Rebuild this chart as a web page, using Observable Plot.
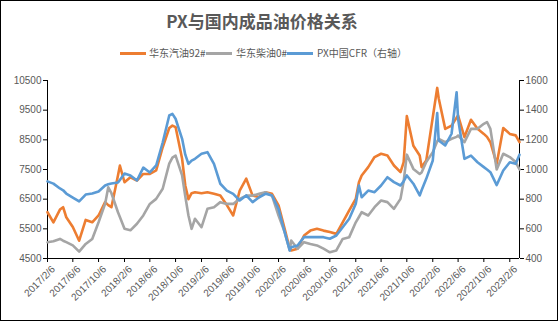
<!DOCTYPE html>
<html><head><meta charset="utf-8">
<script src="https://cdn.jsdelivr.net/npm/d3@7"></script>
<script src="https://cdn.jsdelivr.net/npm/@observablehq/plot@0.6"></script>
<style>
body{margin:0;background:#fff;}
#wrap{position:relative;width:558px;height:321px;overflow:hidden;background:#fff;}
#border{position:absolute;left:0;top:0;width:558px;height:321px;box-sizing:border-box;border:1px solid #000;pointer-events:none;}
#title{position:absolute;left:0;width:524px;top:9px;text-align:center;font:bold 17px "Noto Sans CJK SC",sans-serif;color:#595959;line-height:24px;}
.lg-line{position:absolute;height:3px;width:26px;top:52px;}
.lg-text{position:absolute;top:46px;font:10px "Noto Sans CJK SC",sans-serif;color:#595959;line-height:14px;white-space:nowrap;}
#chart{position:absolute;left:0;top:65px;}
</style>
</head><body>
<div id="wrap">
  <div id="title"></div>
  <div id="legend"></div>
  <div id="chart"></div>
  <div id="border"></div>
</div>
<script>
const title = "PX与国内成品油价格关系";
const seriesNames = ["华东汽油92#", "华东柴油0#", "PX中国CFR（右轴）"];
const seriesColors = ["#ED7D31", "#A5A5A5", "#5B9BD5"];

const dates = [
  "2017-02-06","2017-03-06","2017-04-06","2017-04-21","2017-05-06","2017-06-06","2017-07-06","2017-08-06","2017-09-06","2017-10-06","2017-11-06","2017-11-21","2017-12-06",
  "2018-01-06","2018-01-15","2018-02-06","2018-03-06","2018-04-06","2018-05-06","2018-06-06","2018-07-06","2018-08-06","2018-09-06","2018-09-21","2018-10-06","2018-11-06","2018-11-21","2018-12-06","2018-12-21",
  "2019-01-06","2019-02-06","2019-03-06","2019-04-06","2019-05-06","2019-06-06","2019-07-06","2019-08-06","2019-09-06","2019-10-06","2019-11-06","2019-12-06",
  "2020-01-06","2020-02-06","2020-03-06","2020-03-30","2020-04-06","2020-05-06","2020-06-06","2020-07-06","2020-08-06","2020-09-06","2020-10-06","2020-11-06","2020-12-06",
  "2021-01-06","2021-02-06","2021-02-21","2021-03-06","2021-04-06","2021-05-06","2021-06-06","2021-07-06","2021-08-06","2021-09-06","2021-09-21","2021-10-06","2021-11-06","2021-12-06","2021-12-15",
  "2022-01-06","2022-02-06","2022-02-27","2022-03-06","2022-04-06","2022-05-06","2022-05-30","2022-06-06","2022-07-06","2022-08-06","2022-09-06","2022-10-06","2022-10-21","2022-11-06","2022-12-06",
  "2023-01-06","2023-02-06","2023-03-06","2023-03-24"
];
// 华东汽油92# (left axis)
const gasoline = [
  6060,5720,6150,6230,5890,5560,5100,5800,5720,5950,6400,6300,6230,
  7300,7630,7070,7240,7130,7350,7350,7470,8250,8900,8980,8930,7860,6960,6500,6700,
  6735,6700,6735,6680,6620,6300,5950,6790,7190,6620,6570,6735,
  6680,6290,5500,4830,4770,4830,5275,5440,5500,5440,5390,5330,5720,
  6120,6510,7070,7300,7580,7920,8030,7970,7635,7410,7750,9300,8300,7970,7580,
  7800,9260,10250,9900,8870,8980,9250,9320,8590,9175,8870,8700,8600,8420,7690,
  8900,8700,8650,8420
];
// 华东柴油0# (left axis)
const diesel = [
  5050,5080,5160,5100,5050,4940,4730,4990,5160,5720,6340,6900,6700,
  6060,5900,5500,5450,5670,5950,6340,6510,6850,7700,7900,7970,7300,6600,5950,5500,
  5840,5555,6175,6230,6400,6340,6340,6510,6620,6620,6680,6735,
  6620,5950,5390,4770,5106,4830,5050,4990,4940,4830,4710,4770,5160,
  5220,5720,5900,6060,5950,6230,6455,6400,6175,6510,7100,8000,7520,7350,7400,
  7750,8085,8450,8534,8420,8534,8600,8646,8420,8870,8870,9040,9100,8870,7500,
  8030,7920,7750,7500
];
// PX中国CFR (right axis)
const px = [
  920,905,872,860,838,811,785,831,838,852,892,900,906,
  912,930,973,960,926,1013,980,1027,1182,1364,1375,1342,1207,1100,1038,1060,
  1072,1106,1117,1038,904,858,836,791,825,780,813,836,
  825,735,577,454,476,488,544,544,544,544,533,555,611,
  668,769,892,813,858,847,892,948,915,892,920,960,904,825,860,
  937,1061,1380,1195,1162,1241,1521,1340,1072,1094,1049,1016,1000,982,895,
  993,1049,1038,1100
];
const leftTicks = [4500,5500,6500,7500,8500,9500,10500];
const rightTicks = [400,600,800,1000,1200,1400,1600];
const xTickLabels = ["2017-02-06","2017-06-06","2017-10-06","2018-02-06","2018-06-06","2018-10-06","2019-02-06","2019-06-06","2019-10-06","2020-02-06","2020-06-06","2020-10-06","2021-02-06","2021-06-06","2021-10-06","2022-02-06","2022-06-06","2022-10-06","2023-02-06"];

// ---- build ----
const parse = s => new Date(s + "T00:00:00Z");
const toLeft = v => leftTicks[0] + (v - rightTicks[0]) * (leftTicks[leftTicks.length-1]-leftTicks[0]) / (rightTicks[rightTicks.length-1]-rightTicks[0]);
const table = dates.map((d, i) => ({date: parse(d), gasoline: gasoline[i], diesel: diesel[i], px: px[i], pxL: toLeft(px[i])}));
const xDomain = [parse(dates[0]), parse(dates[dates.length-1])];
const fmtDate = d => `${d.getUTCFullYear()}/${d.getUTCMonth()+1}/${d.getUTCDate()}`;

document.getElementById("title").textContent = title;
const legendPos = [[120,149],[206,236],[287,317]];
const lg = document.getElementById("legend");
seriesNames.forEach((n, i) => {
  const l = document.createElement("div"); l.className = "lg-line";
  l.style.left = legendPos[i][0] + "px"; l.style.background = seriesColors[i];
  const t = document.createElement("div"); t.className = "lg-text";
  t.style.left = legendPos[i][1] + "px"; t.textContent = n;
  lg.appendChild(l); lg.appendChild(t);
});

const chart = Plot.plot({
  width: 558, height: 256,
  marginLeft: 47, marginRight: 39, marginTop: 15, marginBottom: 63,
  style: {fontFamily: "'Liberation Sans', Arial, sans-serif", fontSize: "10px", color: "#595959", background: "transparent"},
  x: {type: "utc", domain: xDomain},
  y: {domain: [leftTicks[0], leftTicks[leftTicks.length-1]]},
  marks: [
    Plot.axisY({anchor: "left", ticks: leftTicks, tickFormat: d => String(d), tickSize: 4, tickPadding: 2, label: null, stroke: "#000", fill: "#595959"}),
    Plot.axisY({anchor: "right", ticks: leftTicks, tickFormat: d => String(rightTicks[leftTicks.indexOf(d)]), tickSize: 4, tickPadding: 2, label: null, stroke: "#000", fill: "#595959"}),
    Plot.axisX({ticks: xTickLabels.map(parse), tickSize: 4, label: null, stroke: "#000", tickFormat: null, text: null}),
    Plot.axisX({ticks: xTickLabels.map(parse), tickFormat: fmtDate, tickRotate: -45, tickSize: 0, tickPadding: 6, dx: 6, dy: 3, label: null, fill: "#595959"}),
    Plot.ruleX(xDomain, {stroke: "#000"}),
    Plot.ruleY([leftTicks[0]], {stroke: "#000"}),
    Plot.line(table, {x: "date", y: "gasoline", stroke: seriesColors[0], strokeWidth: 2.6, strokeLinejoin: "round"}),
    Plot.line(table, {x: "date", y: "diesel", stroke: seriesColors[1], strokeWidth: 2.6, strokeLinejoin: "round"}),
    Plot.line(table, {x: "date", y: "pxL", stroke: seriesColors[2], strokeWidth: 2.6, strokeLinejoin: "round"})
  ]
});
document.getElementById("chart").appendChild(chart);
</script>
</body></html>
